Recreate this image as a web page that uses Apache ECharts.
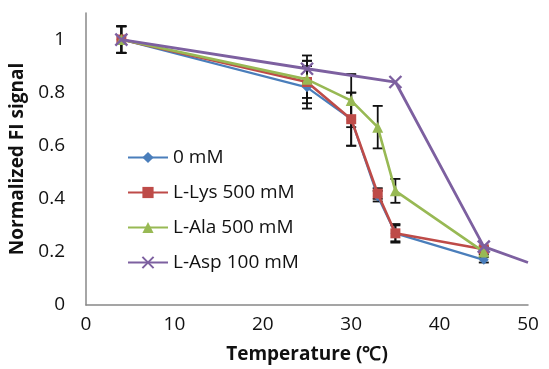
<!DOCTYPE html>
<html><head><meta charset="utf-8">
<script src="https://cdn.jsdelivr.net/npm/echarts@6/dist/echarts.min.js"></script>
<style>html,body{margin:0;padding:0;background:#fff}#c{width:549px;height:369px}</style>
</head><body><div id="c"></div>
<script>
// Data
const xTicks = [0, 10, 20, 30, 40, 50];
const yTicks = [0, 0.2, 0.4, 0.6, 0.8, 1];
const zeroX = [4, 25, 30, 33, 35, 45];
const zeroY = [1.0, 0.82, 0.70, 0.41, 0.27, 0.17];
const zeroErr = [0.05, 0.08, 0.10, 0.02, 0.03, 0.01];
const lysX = [4, 25, 30, 33, 35, 45];
const lysY = [1.0, 0.84, 0.70, 0.42, 0.27, 0.21];
const lysErr = [0.05, 0.08, 0.10, 0.02, 0.035, 0.01];
const alaX = [4, 25, 30, 33, 35, 45];
const alaY = [1.0, 0.85, 0.77, 0.67, 0.43, 0.20];
const alaErr = [0.05, 0.07, 0.10, 0.08, 0.045, 0.01];
const aspX = [4, 25, 35, 45, 50];
const aspY = [1.0, 0.89, 0.84, 0.22, 0.16];
const aspErr = [0.05, 0.05, 0, 0, 0];
const aspMarked = [true, true, true, true, false];

const font = '"Open Sans", sans-serif';

function pts(xs, ys, marked) {
  return xs.map((x, i) => {
    const d = {value: [x, ys[i]]};
    if (marked && !marked[i]) d.symbol = 'none';
    return d;
  });
}
function errData(xs, ys, es) {
  return xs.map((x, i) => [x, ys[i] - es[i], ys[i] + es[i]]).filter((d, i) => es[i] > 0);
}
function errSeries(xs, ys, es) {
  return {
    type: 'custom', silent: true, z: 1,
    data: errData(xs, ys, es),
    renderItem: function (params, api) {
      const lo = api.coord([api.value(0), api.value(1)]);
      const hi = api.coord([api.value(0), api.value(2)]);
      const w = 5;
      const st = {stroke: '#111', lineWidth: 1.8};
      return {type: 'group', children: [
        {type: 'line', shape: {x1: lo[0], y1: lo[1], x2: hi[0], y2: hi[1]}, style: st},
        {type: 'line', shape: {x1: lo[0] - w, y1: lo[1], x2: lo[0] + w, y2: lo[1]}, style: st},
        {type: 'line', shape: {x1: hi[0] - w, y1: hi[1], x2: hi[0] + w, y2: hi[1]}, style: st}
      ]};
    }
  };
}

const colors = {zero: '#4a7ebb', lys: '#be4b48', ala: '#98b954', asp: '#7d60a0'};

const chart = echarts.init(document.getElementById('c'));
chart.setOption({
  animation: false,
  grid: {left: 86, right: 21, top: 13, bottom: 63},
  legend: {
    left: 122, top: 143, orient: 'vertical', itemWidth: 40, itemHeight: 14, itemGap: 16,
    textStyle: {fontFamily: font, fontSize: 19, color: '#111'},
    data: ['0 mM', 'L-Lys 500 mM', 'L-Ala 500 mM', 'L-Asp 100 mM']
  },
  xAxis: {
    type: 'value', min: 0, max: 50, interval: 10,
    name: 'Temperature (\u2103)', nameLocation: 'middle', nameGap: 40,
    nameTextStyle: {fontFamily: font, fontSize: 19, fontWeight: 'bold', color: '#111'},
    axisLine: {lineStyle: {color: '#888', width: 1.5}},
    axisTick: {show: false}, splitLine: {show: false},
    axisLabel: {fontFamily: font, fontSize: 19, color: '#111', margin: 10,
      formatter: v => xTicks.includes(v) ? String(v) : ''}
  },
  yAxis: {
    type: 'value', min: 0, max: 1.1, interval: 0.2,
    name: 'Normalized FI signal', nameLocation: 'middle', nameGap: 53,
    nameTextStyle: {fontFamily: font, fontSize: 19, fontWeight: 'bold', color: '#111'},
    axisLine: {show: true, lineStyle: {color: '#888', width: 1.5}},
    axisTick: {show: false}, splitLine: {show: false},
    axisLabel: {fontFamily: font, fontSize: 19, color: '#111', margin: 21, showMaxLabel: false,
      formatter: v => { const t = yTicks.find(y => Math.abs(y - v) < 1e-6); return t === undefined ? '' : String(t); }}
  },
  series: [
    errSeries(zeroX, zeroY, zeroErr),
    errSeries(lysX, lysY, lysErr),
    errSeries(alaX, alaY, alaErr),
    errSeries(aspX, aspY, aspErr),
    {name: '0 mM', type: 'line', data: pts(zeroX, zeroY), symbol: 'diamond', symbolSize: 10,
      color: colors.zero, lineStyle: {width: 2.2}, z: 2},
    {name: 'L-Lys 500 mM', type: 'line', data: pts(lysX, lysY), symbol: 'rect', symbolSize: 10,
      color: colors.lys, lineStyle: {width: 2.6}, z: 3},
    {name: 'L-Ala 500 mM', type: 'line', data: pts(alaX, alaY), symbol: 'triangle', symbolSize: 11,
      color: colors.ala, lineStyle: {width: 2.6}, z: 4},
    {name: 'L-Asp 100 mM', type: 'line', data: pts(aspX, aspY, aspMarked), symbol: 'path://M0,0 L10,10 M10,0 L0,10', symbolSize: 12,
      color: colors.asp, itemStyle: {borderColor: colors.asp, borderWidth: 2.4, color: colors.asp}, lineStyle: {width: 2.8}, z: 5}
  ]
});
</script></body></html>
